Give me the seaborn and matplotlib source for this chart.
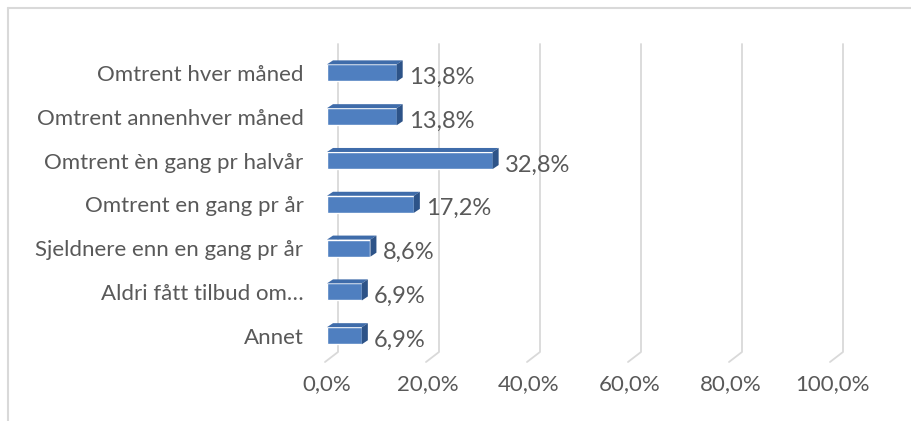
import matplotlib
matplotlib.use("Agg")
import matplotlib.pyplot as plt
import seaborn as sns
import pandas as pd
from matplotlib.patches import Polygon
from matplotlib.lines import Line2D

categories = [
    "Omtrent hver måned",
    "Omtrent annenhver måned",
    "Omtrent èn gang pr halvår",
    "Omtrent en gang pr år",
    "Sjeldnere enn en gang pr år",
    "Aldri fått tilbud om…",
    "Annet",
]
values = [13.8, 13.8, 32.8, 17.2, 8.6, 6.9, 6.9]
xticks = [0, 20, 40, 60, 80, 100]

df = pd.DataFrame({"kategori": categories, "andel": values})

sns.set_style("white")
plt.rcParams["font.family"] = ["Lato", "DejaVu Sans"]

text_color = "#595959"
grid_color = "#D9D9D9"
front = "#4F7FC0"
top_col = "#3F6CAA"
side_col = "#2D5388"

fig = plt.figure(figsize=(9.12, 4.21), dpi=100)
ax = fig.add_axes([327 / 912, 59 / 421, 505 / 912, 318 / 421])

sns.barplot(data=df, x="andel", y="kategori", orient="h", color=front,
            width=0.39, saturation=1, ax=ax, zorder=3)

ax.set_xlim(0, 100)
ax.set_ylim(6.6, -0.66)

# 3d-effekt paa stolpene (dybde i dataenheter)
dx = 6 / 5.05
dy = 4 / 43.8
for p in ax.patches[:]:
    x0, x1 = p.get_x(), p.get_x() + p.get_width()
    yt, yb = p.get_y(), p.get_y() + p.get_height()
    ax.add_patch(Polygon([(x0, yt), (x0 + dx, yt - dy), (x1 + dx, yt - dy), (x1, yt)],
                         closed=True, facecolor=top_col, edgecolor="none", zorder=3))
    ax.add_patch(Polygon([(x1, yt), (x1 + dx, yt - dy), (x1 + dx, yb - dy), (x1, yb)],
                         closed=True, facecolor=side_col, edgecolor="none", zorder=3))

# rutenett paa bakveggen
back = 11 / 5.05
fwd = -2 / 5.05
trans = ax.get_xaxis_transform()
floor = 10 / 318
for t in xticks:
    ax.plot([t + back, t + back, t + fwd], [1, floor, 0], transform=trans,
            color=grid_color, lw=1.3, zorder=1, clip_on=False)

for p, v in zip(ax.patches[:len(values)], values):
    ax.text(p.get_x() + p.get_width() + 12 / 5.05, p.get_y() + p.get_height() / 2 + 0.1,
            f"{v:.1f}%".replace(".", ","), va="center", ha="left",
            fontsize=17, color=text_color, zorder=4)

ax.set_xticks(xticks)
ax.set_xticklabels([f"{t:.1f}%".replace(".", ",") for t in xticks])
ax.set_xlabel("")
ax.set_ylabel("")
ax.tick_params(axis="x", length=0, pad=9, labelsize=16, labelcolor=text_color)
ax.tick_params(axis="y", length=0, pad=17, labelsize=16, labelcolor=text_color)
sns.despine(ax=ax, left=True, bottom=True)

# ramme rundt diagramomraadet
fig.add_artist(Line2D([8 / 912, 8 / 912], [0, 413 / 421], color=grid_color, lw=1.5))
fig.add_artist(Line2D([8 / 912, 1], [413 / 421, 413 / 421], color=grid_color, lw=1.5))

fig.savefig("out.png", dpi=100)
